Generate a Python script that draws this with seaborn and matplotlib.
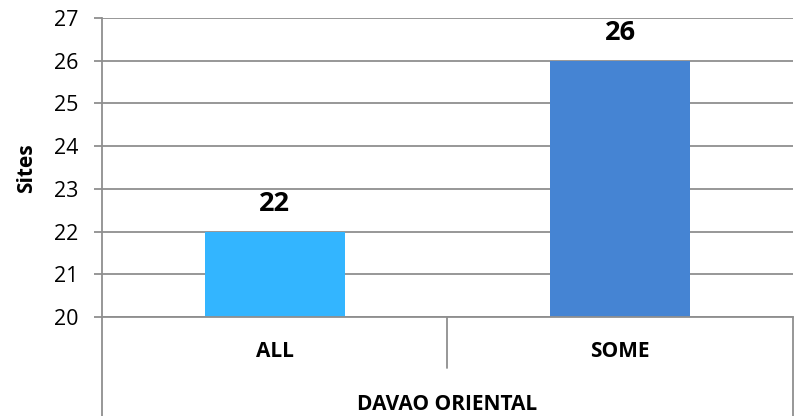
import matplotlib
matplotlib.use("Agg")
import matplotlib.pyplot as plt
import seaborn as sns
import pandas as pd
from matplotlib.lines import Line2D

# Data
categories = ["ALL", "SOME"]
values = [22, 26]
group_label = "DAVAO ORIENTAL"
y_label = "Sites"
y_ticks = [20, 21, 22, 23, 24, 25, 26, 27]
bar_colors = ["#33B5FF", "#4584D3"]

sns.set_theme(style="white")
plt.rcParams["font.family"] = ["Open Sans", "DejaVu Sans"]
plt.rcParams["text.color"] = "black"
plt.rcParams["xtick.labelcolor"] = "black"
plt.rcParams["ytick.labelcolor"] = "black"

W, H = 798, 416
fig = plt.figure(figsize=(W / 100, H / 100), dpi=100)
left_px, right_px, top_px, bottom_px = 102, 793, 18, 317
ax = fig.add_axes([left_px / W, 1 - bottom_px / H,
                   (right_px - left_px) / W, (bottom_px - top_px) / H])

df = pd.DataFrame({"cat": categories, "val": values})
sns.barplot(data=df, x="cat", y="val", hue="cat", palette=bar_colors,
            width=0.405, legend=False, ax=ax, saturation=1, linewidth=0)

grid_c = "#8F8F8F"
ax.set_ylim(y_ticks[0], y_ticks[-1])
ax.set_xlim(-0.5, len(categories) - 0.5)
ax.set_yticks(y_ticks)
ax.set_yticklabels([str(t) for t in y_ticks], fontsize=15.5, color="black")
ax.yaxis.grid(True, color=grid_c, linewidth=1.3)
ax.set_axisbelow(True)
ax.tick_params(axis="y", which="major", direction="out", length=5.8,
               width=1.3, color=grid_c, left=True, pad=11, labelcolor="black")
ax.tick_params(axis="x", length=0, pad=17, labelcolor="black")
ax.set_xticks(range(len(categories)))
ax.set_xticklabels(categories, fontsize=15, fontweight="bold", color="black")
ax.set_xlabel("")
ax.set_ylabel("")

for side in ["top", "right"]:
    ax.spines[side].set_visible(False)
for side in ["left", "bottom"]:
    ax.spines[side].set_color(grid_c)
    ax.spines[side].set_linewidth(1.3)

# Bar value labels
for i, v in enumerate(values):
    ax.annotate(str(v), xy=(i, v), xytext=(0, 15), textcoords="offset points",
                ha="center", va="baseline", fontsize=19.5, fontweight="bold",
                color="black")

# Category box lines below the axis
ax_h = bottom_px - top_px
y_bottom = -(H - bottom_px) / ax_h
y_sep = -(368 - bottom_px) / ax_h
for xa, yb in [(0.0, y_bottom), (0.5, y_sep), (1.0, y_bottom)]:
    ax.add_line(Line2D([xa, xa], [0, yb], transform=ax.transAxes,
                       color=grid_c, linewidth=1.3, clip_on=False))

fig.text(((left_px + right_px) / 2) / W, 1 - 405 / H, group_label,
         ha="center", va="center", fontsize=15, fontweight="bold", color="black")
fig.text(27 / W, 1 - 168 / H, y_label, rotation=90, ha="center",
         va="center", fontsize=15, fontweight="bold", color="black")

fig.savefig("out.png", dpi=100)
